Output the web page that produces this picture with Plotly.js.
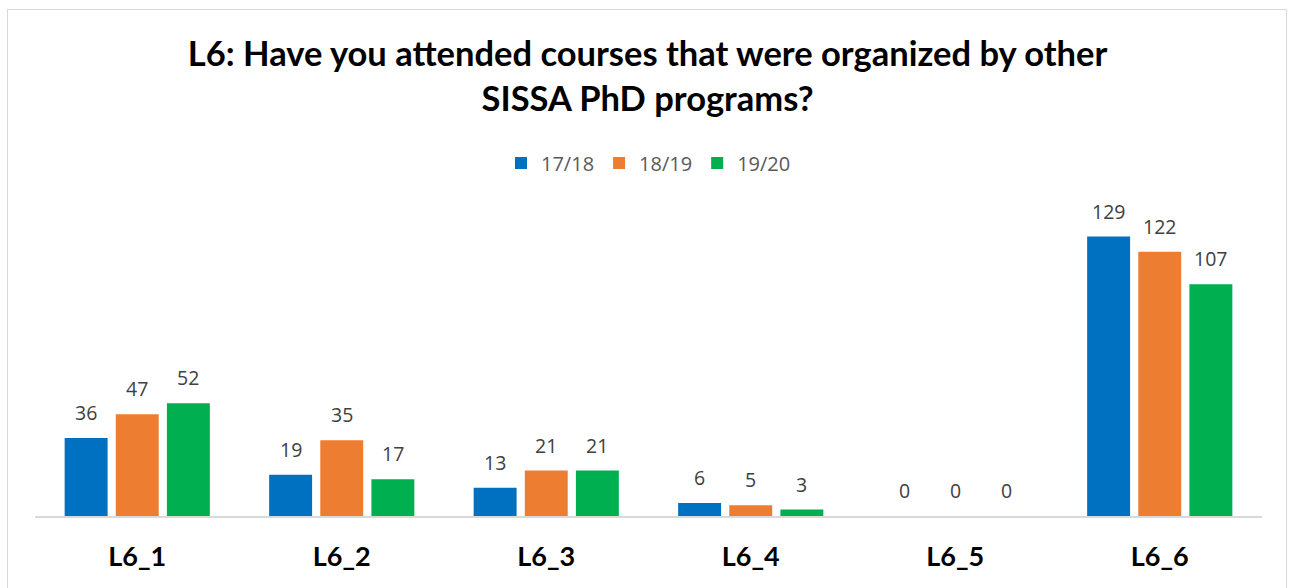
<!DOCTYPE html>
<html>
<head>
<meta charset="utf-8">
<script src="https://cdn.plot.ly/plotly-3.0.1.min.js"></script>
<style>
  html, body { margin: 0; padding: 0; background: #fff; }
  #chart { width: 1290px; height: 588px; position: absolute; left: 0; top: 0; }
  #frame { position: absolute; left: 7px; top: 9px; width: 1278px; height: 600px; border: 1px solid #d9d9d9; pointer-events: none; }
</style>
</head>
<body>
<div id="chart"></div>
<div id="frame"></div>
<script>
const categories = ["L6_1", "L6_2", "L6_3", "L6_4", "L6_5", "L6_6"];
const seriesNames = ["17/18", "18/19", "19/20"];
const values1718 = [36, 19, 13, 6, 0, 129];
const values1819 = [47, 35, 21, 5, 0, 122];
const values1920 = [52, 17, 21, 3, 0, 107];
const colors = ["#0070C0", "#ED7D31", "#00B050"];

const allValues = [values1718, values1819, values1920];
const bargap = 0.25;
const slot = (1 - bargap) / 3;

const traces = allValues.map((vals, i) => ({
  type: "bar",
  name: seriesNames[i],
  x: categories,
  y: vals,
  marker: { color: colors[i] },
  hoverinfo: "none"
}));

const annotations = [];
allValues.forEach((vals, i) => {
  vals.forEach((v, j) => {
    annotations.push({
      x: j + (i - 1) * slot,
      y: v,
      xref: "x",
      yref: "y",
      text: String(v),
      showarrow: false,
      yanchor: "bottom",
      yshift: 10,
      font: { family: "Open Sans, sans-serif", size: 19.5, color: "#404040" }
    });
  });
});

const layout = {
  width: 1290,
  height: 588,
  paper_bgcolor: "#ffffff",
  plot_bgcolor: "#ffffff",
  margin: { l: 35, r: 28, t: 191, b: 72 },
  barmode: "group",
  bargap: bargap,
  bargroupgap: 0.16,
  title: {
    text: "L6: Have you attended courses that were organized by other<br>SISSA PhD programs?",
    font: { family: "Lato, sans-serif", size: 34.5, color: "#000000", weight: "bold" },
    x: 0.502,
    xanchor: "center",
    y: 0.888,
    yref: "container",
    yanchor: "top"
  },
  showlegend: true,
  legend: {
    orientation: "h",
    x: 0.5,
    xanchor: "center",
    y: 1.086,
    yanchor: "middle",
    font: { family: "Open Sans, sans-serif", size: 20, color: "#595959" },
    itemwidth: 30,
    traceorder: "normal"
  },
  xaxis: {
    type: "category",
    showline: true,
    linecolor: "#d9d9d9",
    linewidth: 1.5,
    ticks: "",
    ticklabelstandoff: 16,
    tickfont: { family: "Lato, sans-serif", size: 27, color: "#000000", weight: "bold" },
    showgrid: false,
    zeroline: false
  },
  yaxis: {
    range: [0, 150],
    visible: false,
    showgrid: false,
    zeroline: false
  },
  annotations: annotations
};

Plotly.newPlot("chart", traces, layout, { displayModeBar: false, staticPlot: true });
</script>
</body>
</html>
